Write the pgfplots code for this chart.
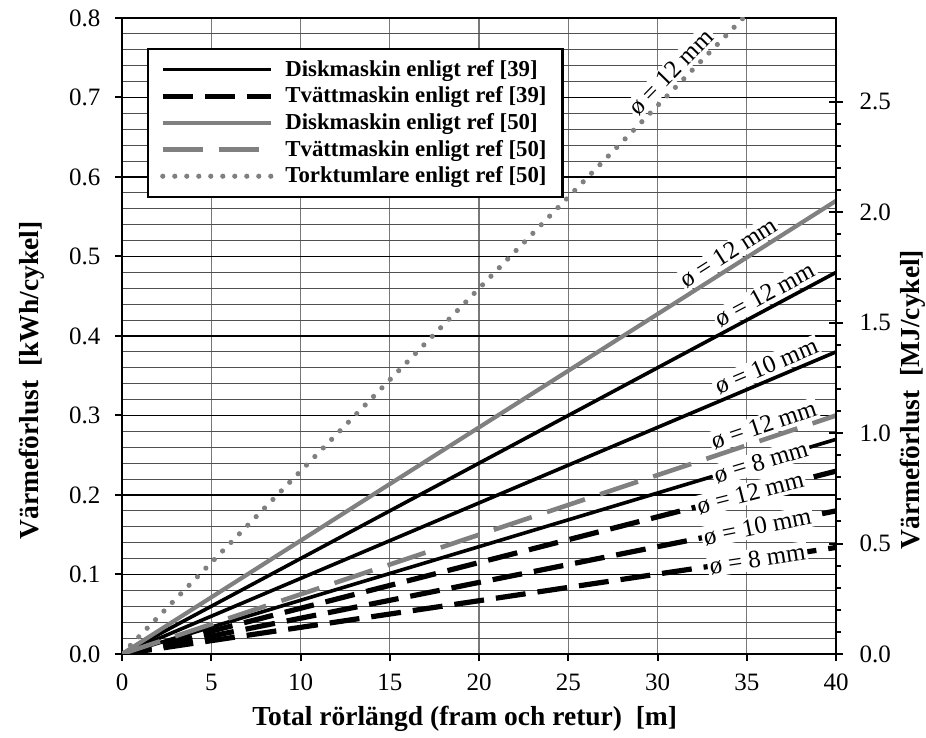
\documentclass[border=0pt]{standalone}
\usepackage{fontspec}
\setmainfont{Liberation Serif}
\usepackage{pgfplots}
\pgfplotsset{compat=1.18}
\definecolor{lgray}{RGB}{128,128,128}
\definecolor{ggray}{RGB}{120,120,120}
\definecolor{mgray}{RGB}{80,80,80}
\newcommand{\tickfont}{\fontsize{12.5}{14}\selectfont}
\newcommand{\labfont}{\fontsize{13.75}{16}\selectfont\bfseries}
\newcommand{\legfont}{\fontsize{11.4}{13}\selectfont\bfseries}
\newcommand{\lblfont}{\fontsize{12.5}{14}\selectfont}
\tikzset{
  blk/.style={black, line width=1.8pt},
  blkd/.style={black, line width=2.6pt, dash pattern=on 15pt off 6pt},
  gry/.style={lgray, line width=2.1pt},
  gryd/.style={lgray, line width=2.3pt, dash pattern=on 20pt off 8pt},
  gryt/.style={lgray, line width=2.6pt, line cap=round, dash pattern=on 0pt off 6pt},
  lab/.style={font=\lblfont, fill=white, inner sep=1pt, sloped},
  labup/.style={lab, anchor=south, outer ysep=1.5pt},
}
\begin{document}
\begin{tikzpicture}
\begin{axis}[
  name=ax,
  scale only axis, width=357pt, height=318pt,
  xmin=0, xmax=40, ymin=0, ymax=0.8,
  xtick={0,5,...,40},
  ytick={0,0.1,0.2,0.3,0.4,0.5,0.6,0.7,0.8},
  minor ytick={0.02,0.04,0.06,0.08,0.12,0.14,0.16,0.18,0.22,0.24,0.26,0.28,0.32,0.34,0.36,0.38,0.42,0.44,0.46,0.48,0.52,0.54,0.56,0.58,0.62,0.64,0.66,0.68,0.72,0.74,0.76,0.78},
  minor tick length=0pt,
  major tick length=3.5pt,
  tick align=outside,
  xtick pos=bottom, ytick pos=left,
  tick style={black, line width=1pt},
  axis line style={black, line width=1.3pt},
  grid=both,
  major x grid style={ggray, line width=0.6pt},
  major y grid style={black, line width=0.8pt},
  minor y grid style={mgray, line width=0.5pt},
  minor x grid style={draw=none},
  ticklabel style={font=\tickfont},
  /pgf/number format/assume math mode=true,
  yticklabel style={/pgf/number format/.cd, fixed, fixed zerofill, precision=1},
  xticklabel shift=2.8pt,
  yticklabel shift=3.8pt,
  xlabel={Total rörlängd (fram och retur)\ \ [m]},
  ylabel={Värmeförlust\ \ [kWh/cykel]},
  xlabel style={font=\labfont, at={(axis description cs:0.48,-0.102)}, anchor=center},
  ylabel style={font=\labfont, at={(axis description cs:-0.126,0.43)}, anchor=center},
  legend style={at={(0.035,0.953)}, anchor=north west, draw=black, line width=1.2pt, fill=white,
    font=\legfont, inner xsep=6pt, inner ysep=3.5pt, row sep=-0.2pt, cells={anchor=west}},
  legend cell align=left,
  legend image code/.code={\draw[#1] (0pt,0pt) -- (54pt,0pt);},
  /tikz/every odd column/.append style={column sep=4pt},
]
% Diskmaskin ref [39] - black solid
\addplot[blk] coordinates {(0,0) (40,0.48)};
\addlegendentry{Diskmaskin enligt ref [39]}
\addplot[blk, forget plot] coordinates {(0,0) (40,0.38)};
\addplot[blk, forget plot] coordinates {(0,0) (40,0.27)};
% Tvättmaskin ref [39] - black dashed
\addplot[blkd] coordinates {(0,0) (40,0.23)};
\addlegendentry{Tvättmaskin enligt ref [39]}
\addplot[blkd, forget plot] coordinates {(0,0) (40,0.18)};
\addplot[blkd, forget plot] coordinates {(0,0) (40,0.134)};
% Diskmaskin ref [50]
\addplot[gry] coordinates {(0,0) (40,0.57)};
\addlegendentry{Diskmaskin enligt ref [50]}
% Tvättmaskin ref [50]
\addplot[gryd] coordinates {(0,0) (40,0.30)};
\addlegendentry{Tvättmaskin enligt ref [50]}
% Torktumlare ref [50]
\addplot[gryt] coordinates {(0,0) (34.8,0.8)};
\addlegendentry{Torktumlare enligt ref [50]}
% labels
\addplot[draw=none, forget plot] coordinates {(0,0) (34.8,0.8)} node[labup, pos=0.90] {ø = 12 mm};
\addplot[draw=none, forget plot] coordinates {(0,0) (40,0.57)} node[labup, pos=0.86] {ø = 12 mm};
\addplot[draw=none, forget plot] coordinates {(0,0) (40,0.48)} node[labup, pos=0.91] {ø = 12 mm};
\addplot[draw=none, forget plot] coordinates {(0,0) (40,0.38)} node[labup, pos=0.91] {ø = 10 mm};
\addplot[draw=none, forget plot] coordinates {(0,0) (40,0.30)} node[labup, pos=0.905] {ø = 12 mm};
\addplot[draw=none, forget plot] coordinates {(0,0) (40,0.27)} node[lab, pos=0.895] {ø = 8 mm};
\addplot[draw=none, forget plot] coordinates {(0,0) (40,0.23)} node[lab, pos=0.88] {ø = 12 mm};
\addplot[draw=none, forget plot] coordinates {(0,0) (40,0.18)} node[lab, pos=0.89] {ø = 10 mm};
\addplot[draw=none, forget plot] coordinates {(0,0) (40,0.134)} node[lab, pos=0.89] {ø = 8 mm};
\end{axis}
% right axis (MJ)
\begin{axis}[
  scale only axis, width=357pt, height=318pt,
  xmin=0, xmax=40, ymin=0, ymax=2.88,
  axis x line=none,
  axis y line*=right,
  ytick={0,0.5,...,2.5},
  minor y tick num=4,
  major tick length=3.3pt,
  minor tick length=2.5pt,
  tick align=outside,
  tick style={black, line width=1pt},
  axis line style={black, line width=1.3pt},
  ticklabel style={font=\tickfont},
  /pgf/number format/assume math mode=true,
  yticklabel style={/pgf/number format/.cd, fixed, fixed zerofill, precision=1},
  yticklabel shift=5pt,
  ylabel={Värmeförlust\ \ [MJ/cykel]},
  ylabel style={font=\labfont, at={(axis description cs:1.108,0.40)}, anchor=center},
]
\addplot[draw=none] coordinates {(0,0) (40,2.88)};
\end{axis}
\begin{axis}[
  scale only axis, width=357pt, height=318pt,
  xmin=0, xmax=40, ymin=0, ymax=2.88,
  axis x line=none,
  axis y line*=right,
  ytick={0,0.5,...,2.5},
  yticklabels={},
  major tick length=3.3pt,
  tick align=inside,
  tick style={black, line width=1pt},
  axis line style={black, line width=1.3pt},
]
\addplot[draw=none] coordinates {(0,0) (40,2.88)};
\end{axis}
\pgfresetboundingbox
\path[use as bounding box] ([xshift=-61pt,yshift=-42pt]ax.south west) rectangle ([xshift=45pt,yshift=9pt]ax.north east);
\end{tikzpicture}
\end{document}
